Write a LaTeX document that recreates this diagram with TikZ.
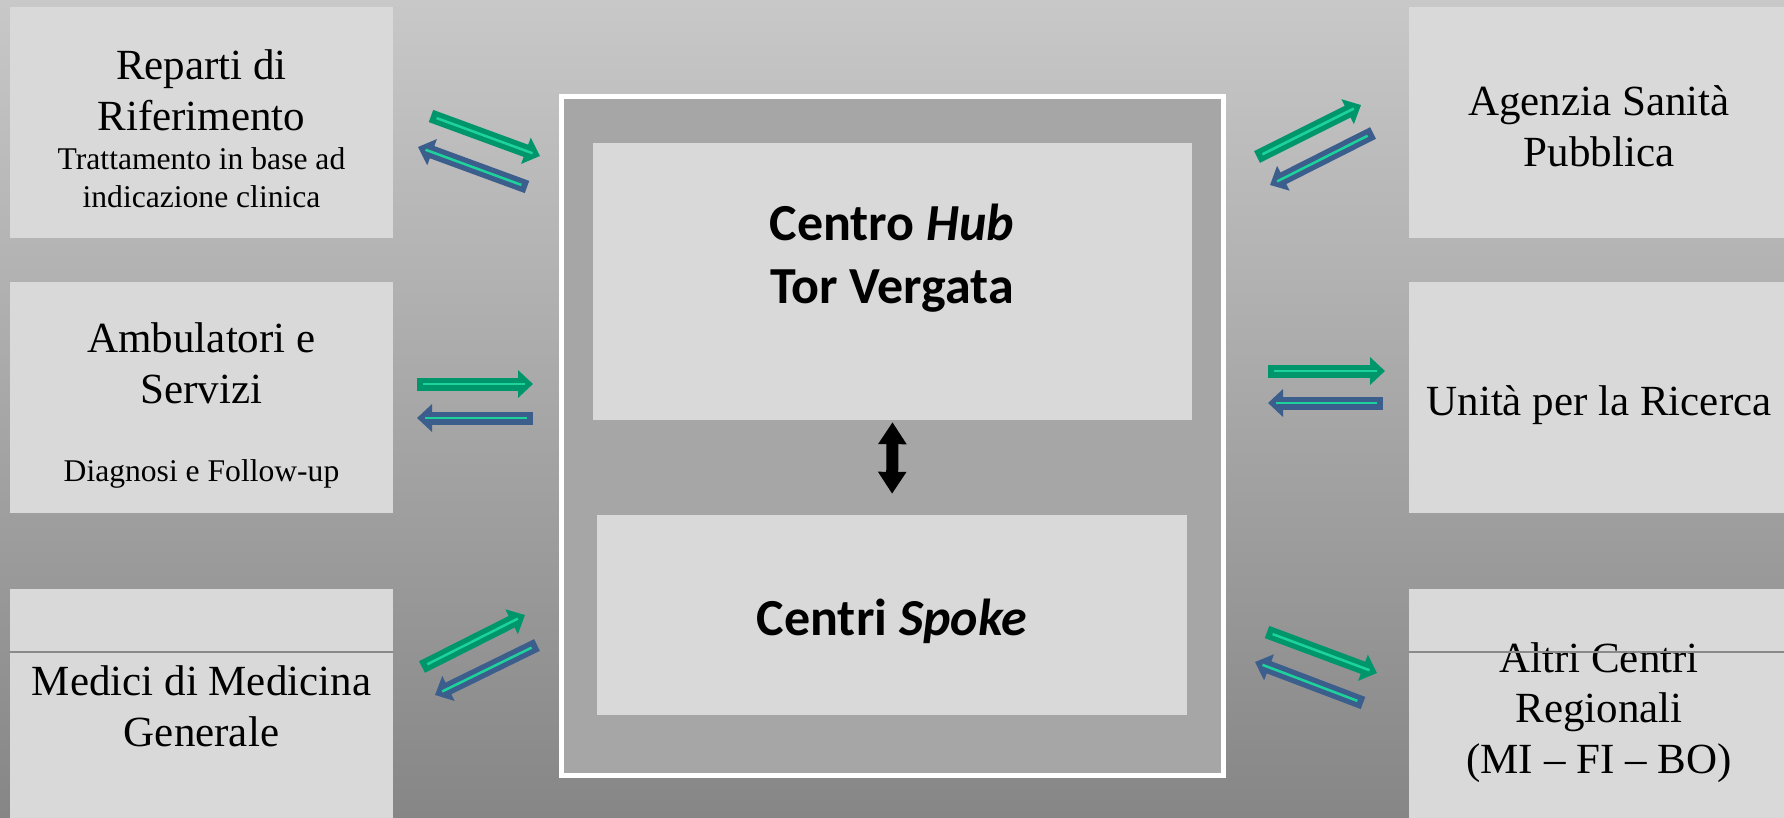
\documentclass[tikz,border=0pt]{standalone}
\usepackage{fontspec}
\setmainfont{Liberation Serif}
\newfontfamily\hubfont{Carlito}
\usetikzlibrary{arrows.meta}

\definecolor{bgtop}{RGB}{200,200,200}
\definecolor{bgbottom}{RGB}{134,134,134}
\definecolor{framegray}{RGB}{166,166,166}
\definecolor{boxgray}{RGB}{217,217,217}
\definecolor{arrgreen}{RGB}{0,150,108}
\definecolor{arrblue}{RGB}{59,94,141}
\definecolor{arrstripe}{RGB}{30,210,155}
\definecolor{rulegray}{RGB}{138,138,138}

\newcommand{\bigtxt}{\fontsize{43}{50.5}\selectfont}
\newcommand{\smalltxt}{\fontsize{31.6}{38}\selectfont}
\newcommand{\hubtxt}{\hubfont\bfseries\fontsize{52}{63}\selectfont}

\begin{document}
\begin{tikzpicture}[x=1pt, y=-1pt,
        sidebox/.style={fill=boxgray, inner sep=0pt, minimum height=231pt},
        sidetext/.style={inner sep=0pt, align=center, font=\bigtxt},
        centrebox/.style={fill=boxgray, inner sep=0pt},
        centretext/.style={inner sep=0pt, align=center, font=\hubtxt},
        togo/.style={draw=arrgreen, line width=13pt,
            -{Triangle[width=27pt, length=15pt]},
            postaction={draw=arrstripe, line width=2.5pt, -, shorten <=6pt, shorten >=8pt}},
        toback/.style={togo, draw=arrblue},
        updown/.style={draw=black, line width=12pt,
            {Triangle[width=27pt, length=22pt]}-{Triangle[width=27pt, length=22pt]}}]
    \useasboundingbox (0, 0) rectangle (1784, 818);
    \shade[top color=bgtop, bottom color=bgbottom] (0, 0) rectangle (1784, 818);

    % left column
    \node[sidebox, minimum width=383pt] (reparti) at (201.5, 123) {};
    \node[sidebox, minimum width=383pt] (ambulatori) at (201.5, 397.5) {};
    \node[sidebox, minimum width=383pt] (medici) at (201.5, 704.5) {};
    \node[sidetext] (reparti-txt) at (201.5, 128.5)
        {Reparti di\\Riferimento\\[-11pt]\smalltxt Trattamento in base ad\\[-13pt]\smalltxt indicazione clinica};
    \node[sidetext] (ambulatori-txt) at (201.5, 405.5)
        {Ambulatori e\\Servizi\\[28pt]\smalltxt Diagnosi e Follow-up};
    \node[sidetext] (medici-txt) at (201.5, 706.5) {Medici di Medicina\\Generale};

    % right column
    \node[sidebox, minimum width=380pt] (agenzia) at (1599, 123) {};
    \node[sidebox, minimum width=380pt] (ricerca) at (1599, 397.5) {};
    \node[sidebox, minimum width=380pt] (regionali) at (1599, 704.5) {};
    \node[sidetext] (agenzia-txt) at (1599, 126.5) {Agenzia Sanità\\Pubblica};
    \node[sidetext] (ricerca-txt) at (1599, 405.5) {Unità per la Ricerca};
    \node[sidetext] (regionali-txt) at (1599, 712.5) {Altri Centri\\Regionali\\(MI – FI – BO)};

    \draw[rulegray, line width=1.5pt] (10, 652) -- (393, 652) (1409, 652) -- (1784, 652);

    % centre
    \filldraw[draw=white, fill=framegray, line width=4.5pt] (561.5, 96.5) rectangle (1223.5, 775.5);
    \node[centrebox, minimum width=599pt, minimum height=277pt] (hub) at (892.5, 281.5) {};
    \node[centrebox, minimum width=590pt, minimum height=200pt] (spoke) at (892, 615) {};
    \node[centretext] (hub-txt) at (892, 258) {Centro \textit{Hub}\\Tor Vergata};
    \node[centretext] (spoke-txt) at (892, 621) {Centri \textit{Spoke}};
    \draw[updown, shorten <=2pt, shorten >=21pt] (hub.south) -- (spoke.north);

    % arrow ends
    \coordinate (rep-a) at (431, 116);  \coordinate (rep-b) at (540, 156);
    \coordinate (rep-c) at (527, 187);  \coordinate (rep-d) at (418, 147);
    \coordinate (amb-a) at (417, 384);  \coordinate (amb-b) at (533, 384);
    \coordinate (amb-c) at (533, 418);  \coordinate (amb-d) at (417, 418);
    \coordinate (med-a) at (422, 667);  \coordinate (med-b) at (525, 615);
    \coordinate (med-c) at (537, 645);  \coordinate (med-d) at (435, 695);
    \coordinate (age-a) at (1257, 157); \coordinate (age-b) at (1361, 105);
    \coordinate (age-c) at (1373, 133); \coordinate (age-d) at (1270, 185);
    \coordinate (ric-a) at (1268, 371); \coordinate (ric-b) at (1385, 371);
    \coordinate (ric-c) at (1383, 403); \coordinate (ric-d) at (1268, 403);
    \coordinate (reg-a) at (1267, 632); \coordinate (reg-b) at (1377, 673);
    \coordinate (reg-c) at (1363, 703); \coordinate (reg-d) at (1255, 662);

    \foreach \side in {rep, amb, med, age, ric, reg} {
        \draw[togo] (\side-a) -- (\side-b);
        \draw[toback] (\side-c) -- (\side-d);
    }
\end{tikzpicture}
\end{document}
